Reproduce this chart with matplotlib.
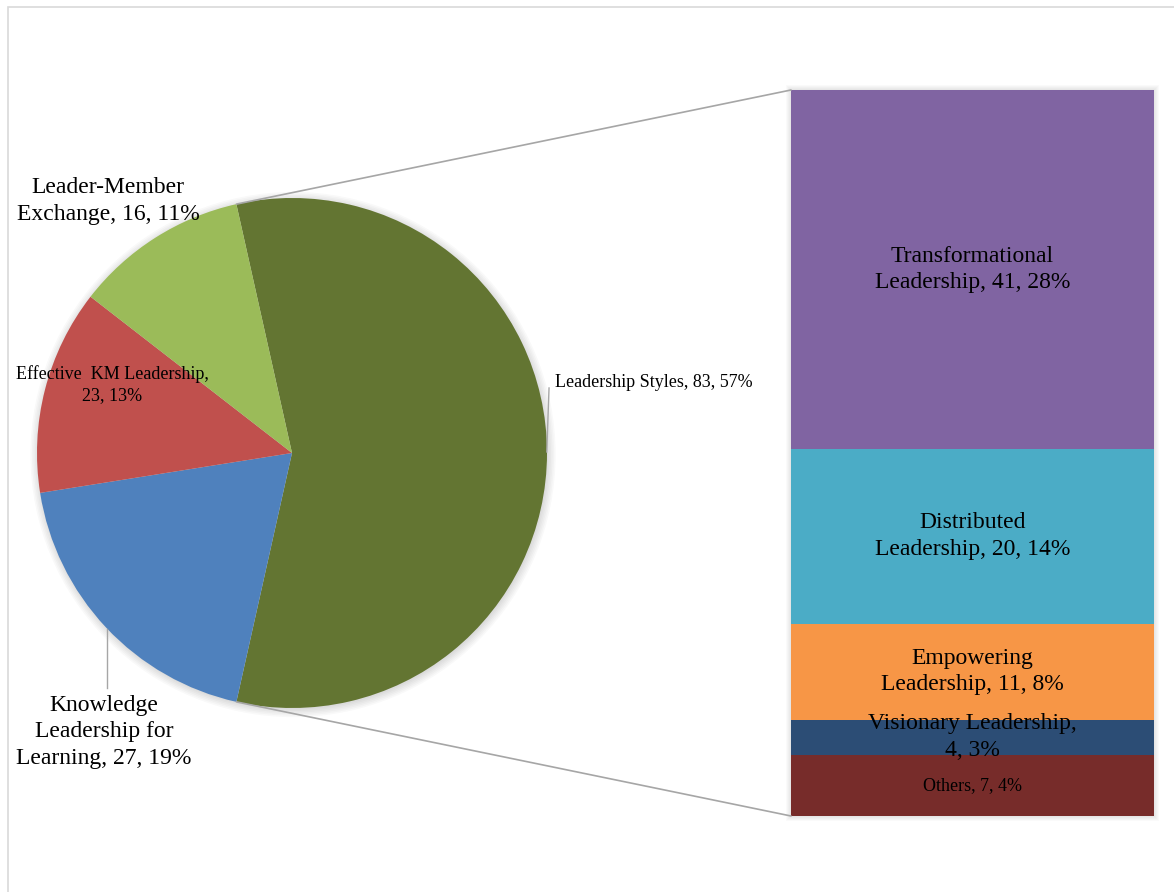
import numpy as np
import matplotlib.pyplot as plt
from matplotlib.patches import ConnectionPatch, Rectangle, Circle

plt.rcParams["font.family"] = ["Liberation Serif", "DejaVu Serif"]

# pie (outer level)
pie_names = ["Leadership Styles", "Knowledge\nLeadership for\nLearning",
             "Effective  KM Leadership", "Leader-Member\nExchange"]
pie_counts = [83, 27, 23, 16]
pie_pcts = [57, 19, 13, 11]
pie_seps = [", ", ", ", ",\n", ", "]
pie_colors = ["#637532", "#4F81BD", "#C0504D", "#9BBB59"]

# bar (breakdown of Leadership Styles), bottom to top
bar_names = ["Others", "Visionary Leadership", "Empowering\nLeadership",
             "Distributed\nLeadership", "Transformational\nLeadership"]
bar_counts = [7, 4, 11, 20, 41]
bar_pcts = [4, 3, 8, 14, 28]
bar_seps = [", ", ",\n", ", ", ", ", ", "]
bar_colors = ["#772C2A", "#2C4D75", "#F79646", "#4BACC6", "#8064A2"]

W, H = 1174, 892
fig = plt.figure(figsize=(W / 100, H / 100), dpi=100)

# chart area border (runs off the right/bottom edge)
fig.patches.append(Rectangle((8 / W, -0.1), 1.2, 1 - 7 / H + 0.1,
                             transform=fig.transFigure, fill=False,
                             edgecolor="#D9D9D9", linewidth=1.2))

big, small = 17, 13

# ── Pie ───────────────────────────────────────────────────────────
ax_pie = fig.add_axes([37 / W, (H - 453 - 255) / H, 510 / W, 510 / H])
# soft shadow
for k in range(6):
    ax_pie.add_patch(Circle((0.004, -0.006), 1.0 + 0.006 * k, color="black",
                            alpha=0.025, linewidth=0, clip_on=False, zorder=0))
start = pie_pcts[0] / 100 * 360 / 2
wedges, _ = ax_pie.pie(pie_pcts, colors=pie_colors, startangle=start,
                       counterclock=False, radius=1.0,
                       wedgeprops=dict(linewidth=0))
for w in wedges:
    w.set_zorder(2)
ax_pie.set_xlim(-1, 1)
ax_pie.set_ylim(-1, 1)
ax_pie.set_aspect("equal")
ax_pie.axis("off")

pie_labels = [f"{n}{s}{c}, {p}%" for n, s, c, p in
              zip(pie_names, pie_seps, pie_counts, pie_pcts)]
ax_pie.text(1.031, 0.275, pie_labels[0], ha="left", va="center",
            fontsize=small, clip_on=False, zorder=5)
ax_pie.plot([1.008, 0.999], [0.255, 0.004], color="#A6A6A6", lw=1,
            clip_on=False, zorder=3)
ax_pie.text(-0.737, -1.094, pie_labels[1], ha="center", va="center",
            fontsize=big, linespacing=1.35, clip_on=False, zorder=5)
ax_pie.plot([-0.725, -0.725], [-0.69, -0.922], color="#A6A6A6", lw=1,
            clip_on=False, zorder=3)
ax_pie.text(-0.706, 0.267, pie_labels[2], ha="center", va="center",
            fontsize=small, linespacing=1.3, clip_on=False, zorder=5)
ax_pie.text(-0.722, 0.988, pie_labels[3], ha="center", va="center",
            fontsize=big, linespacing=1.35, clip_on=False, zorder=5)

# ── Stacked bar ───────────────────────────────────────────────────
ax_bar = fig.add_axes([791 / W, (H - 816) / H, 363 / W, 726 / H])
total = sum(bar_counts)
for k in range(5):
    d = 0.006 * (k + 1)
    ax_bar.add_patch(Rectangle((-0.5 - d * 0.5, -d * 20), 1 + d, total + d * 40,
                               color="black", alpha=0.02, linewidth=0,
                               clip_on=False, zorder=0))
bottoms = np.concatenate([[0], np.cumsum(bar_counts)[:-1]])
ax_bar.bar(0, bar_counts, bottom=bottoms, width=1.0, color=bar_colors,
           linewidth=0, zorder=2)
ax_bar.set_xlim(-0.5, 0.5)
ax_bar.set_ylim(0, total)
ax_bar.axis("off")

for i, (n, s, c, p) in enumerate(zip(bar_names, bar_seps, bar_counts, bar_pcts)):
    fs = small if i == 0 else big
    ax_bar.text(0, bottoms[i] + c / 2, f"{n}{s}{c}, {p}%", ha="center",
                va="center", fontsize=fs, linespacing=1.35, clip_on=False,
                zorder=5)

# ── Connector lines ───────────────────────────────────────────────
a = np.deg2rad(start)
for sign, yb in [(1, total), (-1, 0)]:
    con = ConnectionPatch(xyA=(np.cos(a), sign * np.sin(a)), coordsA=ax_pie.transData,
                          xyB=(-0.5, yb), coordsB=ax_bar.transData,
                          color="#A6A6A6", linewidth=1.2)
    fig.add_artist(con)

fig.savefig("out.png", dpi=100)
